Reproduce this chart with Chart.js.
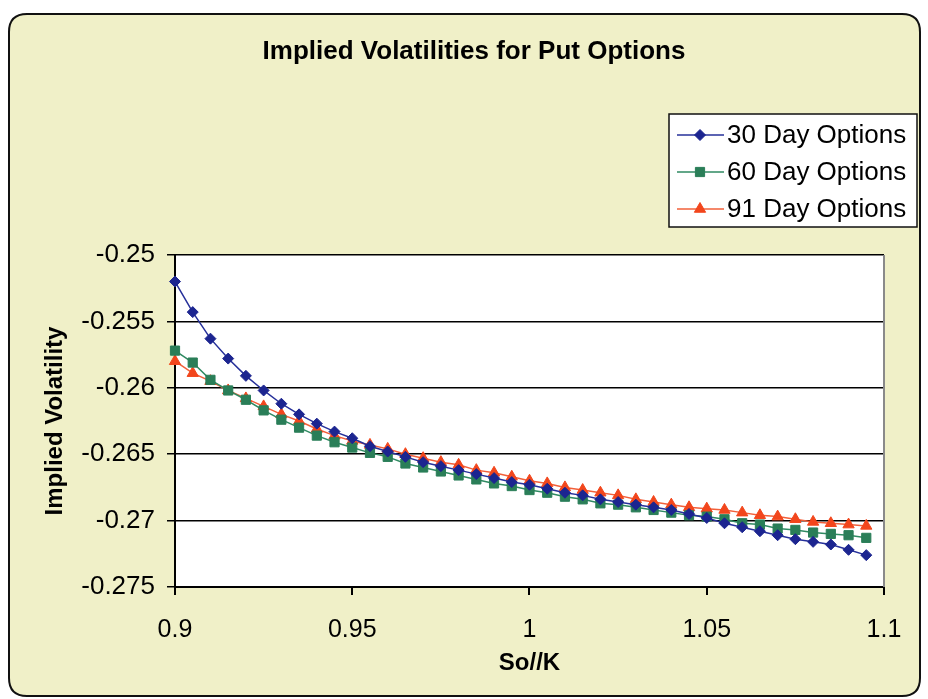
<!DOCTYPE html>
<html><head><meta charset="utf-8">
<script src="https://cdn.jsdelivr.net/npm/chart.js@4.4.0/dist/chart.umd.min.js"></script>
<style>html,body{margin:0;padding:0;background:#fff}#wrap{width:928px;height:699px}</style>
</head><body><div id="wrap"><canvas id="c" width="928" height="699"></canvas></div>
<script>
const xValues = [0.9,0.905,0.91,0.915,0.92,0.925,0.93,0.935,0.94,0.945,
  0.95,0.955,0.96,0.965,0.97,0.975,0.98,0.985,0.99,0.995,
  1.0,1.005,1.01,1.015,1.02,1.025,1.03,1.035,1.04,1.045,
  1.05,1.055,1.06,1.065,1.07,1.075,1.08,1.085,1.09,1.095];
const day30 = [-0.2520,-0.2543,-0.2563,-0.2578,-0.2591,-0.2602,-0.2612,-0.2620,-0.2627,-0.2633,
  -0.2638,-0.2644,-0.2648,-0.2652,-0.2656,-0.2659,-0.2662,-0.2665,-0.2668,-0.2671,
  -0.2673,-0.2676,-0.2679,-0.2681,-0.2684,-0.2686,-0.2688,-0.2690,-0.2692,-0.2695,
  -0.2698,-0.2702,-0.2705,-0.2708,-0.2711,-0.2714,-0.2716,-0.2718,-0.2722,-0.2726];
const day60 = [-0.2572,-0.2581,-0.2594,-0.2602,-0.2609,-0.2617,-0.2624,-0.2630,-0.2636,-0.2641,
  -0.2645,-0.2649,-0.2652,-0.2657,-0.2660,-0.2663,-0.2666,-0.2669,-0.2672,-0.2674,
  -0.2677,-0.2679,-0.2682,-0.2684,-0.2687,-0.2688,-0.2690,-0.2692,-0.2694,-0.2696,
  -0.2697,-0.2699,-0.2702,-0.2703,-0.2706,-0.2707,-0.2709,-0.2710,-0.2711,-0.2713];
const day91 = [-0.2580,-0.2589,-0.2595,-0.2602,-0.2608,-0.2614,-0.2620,-0.2625,-0.2631,-0.2636,
  -0.2640,-0.2643,-0.2646,-0.2650,-0.2653,-0.2656,-0.2658,-0.2662,-0.2664,-0.2667,
  -0.2670,-0.2672,-0.2675,-0.2677,-0.2679,-0.2681,-0.2684,-0.2686,-0.2688,-0.2690,
  -0.2691,-0.2692,-0.2694,-0.2696,-0.2697,-0.2699,-0.2701,-0.2702,-0.2703,-0.2704];
const seriesNames = ['30 Day Options','60 Day Options','91 Day Options'];
const xTicks = [0.9,0.95,1,1.05,1.1];
const yTicks = [-0.25,-0.255,-0.26,-0.265,-0.27,-0.275];
const chartTitle = 'Implied Volatilities for Put Options';

const FONT = '"Liberation Sans", Arial, sans-serif';
const toPts = arr => arr.map((v,i)=>({x:xValues[i], y:v}));

const bgPlugin = {
  id:'bg',
  beforeDraw(chart){
    const ctx = chart.ctx, a = chart.chartArea;
    ctx.save();
    ctx.fillStyle = '#ffffff';
    ctx.fillRect(0,0,chart.width,chart.height);
    const x=9,y=14,w=911,h=682,r=18;
    ctx.beginPath();
    ctx.moveTo(x+r,y);ctx.lineTo(x+w-r,y);ctx.quadraticCurveTo(x+w,y,x+w,y+r);
    ctx.lineTo(x+w,y+h-r);ctx.quadraticCurveTo(x+w,y+h,x+w-r,y+h);
    ctx.lineTo(x+r,y+h);ctx.quadraticCurveTo(x,y+h,x,y+h-r);
    ctx.lineTo(x,y+r);ctx.quadraticCurveTo(x,y,x+r,y);ctx.closePath();
    ctx.fillStyle = '#f0f0c8';
    ctx.fill();
    ctx.lineWidth = 2; ctx.strokeStyle = '#111';
    ctx.stroke();
    ctx.fillStyle = '#ffffff';
    ctx.fillRect(a.left,a.top,a.right-a.left,a.bottom-a.top);
    // title
    ctx.fillStyle = '#000';
    ctx.font = 'bold 26px ' + FONT; ctx.textAlign='center'; ctx.textBaseline='middle';
    ctx.fillText(chartTitle, 474, 52);
    ctx.restore();
  },
  afterDraw(chart){
    const ctx = chart.ctx, a = chart.chartArea;
    ctx.save();
    ctx.strokeStyle = '#8a8a8a'; ctx.lineWidth = 2;
    ctx.beginPath(); ctx.moveTo(a.right, a.top); ctx.lineTo(a.right, a.bottom); ctx.stroke();
    // legend
    const bx=669, by=114, bw=248, bh=113;
    ctx.fillStyle='#fff'; ctx.fillRect(bx,by,bw,bh);
    ctx.strokeStyle='#111'; ctx.lineWidth=1.5; ctx.strokeRect(bx,by,bw,bh);
    ctx.font = '26px ' + FONT; ctx.textBaseline='middle'; ctx.textAlign='left';
    chart.data.datasets.forEach((ds,i)=>{
      const yy = by + 21 + i*37;
      ctx.strokeStyle = ds.borderColor; ctx.lineWidth = ds.borderWidth;
      ctx.beginPath(); ctx.moveTo(677,yy); ctx.lineTo(724,yy); ctx.stroke();
      ctx.fillStyle = ds.pointBackgroundColor; ctx.strokeStyle = ds.pointBorderColor; ctx.lineWidth=1;
      Chart.helpers.drawPoint(ctx,{pointStyle:ds.pointStyle, radius:ds.pointRadius, rotation:0, borderWidth:1},700,yy);
      ctx.fillStyle='#000';
      ctx.fillText(ds.label, 727, yy+1);
    });
    ctx.restore();
  }
};

const mk = (label, data, line, pt, style, rad) => ({
  label, data: toPts(data), borderColor: line, borderWidth: 1.5,
  pointStyle: style, pointRadius: rad, pointBackgroundColor: pt, pointBorderColor: pt,
  pointBorderWidth: 1, tension: 0, clip: false, fill: false
});

new Chart(document.getElementById('c'), {
  type:'line',
  data:{datasets:[
    mk(seriesNames[0], day30, '#26309a', '#1c2590', 'rectRot', 5.5),
    mk(seriesNames[1], day60, '#2f8a62', '#2a7e58', 'rect', 6.5),
    mk(seriesNames[2], day91, '#f2603a', '#f2461c', 'triangle', 6.5)
  ]},
  options:{
    responsive:false, animation:false, devicePixelRatio:1,
    layout:{padding:{top:255,left:10,right:44,bottom:10}},
    plugins:{
      legend:{display:false}, tooltip:{enabled:false}, title:{display:false}
    },
    scales:{
      x:{type:'linear', min:0.9, max:1.1,
        afterFit(s){ s.height = 102; },
        afterBuildTicks(s){ s.ticks = xTicks.map(v=>({value:v})); },
        ticks:{color:'#000', padding:20, font:{family:FONT,size:25}, maxRotation:0,
          callback:v=>String(Number(v.toFixed(3)))},
        grid:{drawOnChartArea:false, tickColor:'#000', tickLength:8, lineWidth:2},
        border:{display:true,color:'#000',width:2},
        title:{display:true,text:'So//K',color:'#000',font:{family:FONT,size:24,weight:'bold'},padding:{top:4,bottom:11}}
      },
      y:{type:'linear', min:-0.275, max:-0.25,
        afterFit(s){ s.width = 165; },
        afterBuildTicks(s){ s.ticks = yTicks.map(v=>({value:v})); },
        ticks:{color:'#000', padding:12, font:{family:FONT,size:26},
          callback:v=>String(Number(v.toFixed(3)))},
        grid:{color:'#000', lineWidth:1.5, tickColor:'#000', tickLength:8},
        border:{display:true,color:'#000',width:2},
        title:{display:true,text:'Implied Volatility',color:'#000',font:{family:FONT,size:24,weight:'bold'},padding:{top:31,bottom:0}}
      }
    }
  },
  plugins:[bgPlugin]
});
</script></body></html>
